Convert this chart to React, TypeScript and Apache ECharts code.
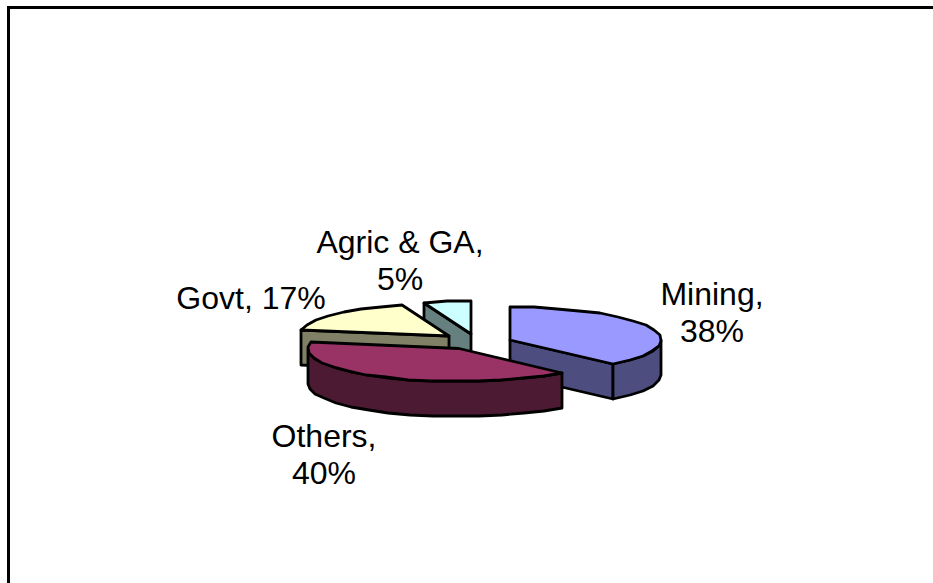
import React, { useEffect, useRef } from "react";
import * as echarts from "echarts";

const categories = ["Mining", "Others", "Govt", "Agric & GA"];
const values = [38, 40, 17, 5];
const topColors = ["#9999FF", "#993366", "#FFFFCC", "#CCFFFF"];
const sideColors = ["#4D4D80", "#4D1A33", "#808066", "#668080"];
const centers = [[510, 340], [459, 348.5], [449, 336], [471, 334]];
const labelSpots = [[712, 312], [324, 454], [251, 298], [400, 260]];
const drawOrder = [2, 3, 1, 0]; // back to front: Mining over Agric/Govt, Others last
const multiLine = [true, true, false, true];

const RX = 151;
const RY = 33;
const DEPTH = 35;
const STEP = 9;
const FONT = "Liberation Sans, Arial, sans-serif";

const rad = (d: number) => (d * Math.PI) / 180;

function arcPoints(cx: number, cy: number, from: number, to: number) {
  const pts: number[][] = [];
  const n = Math.max(1, Math.round((to - from) / STEP));
  for (let i = 0; i <= n; i++) {
    const a = rad(from + ((to - from) * i) / n);
    pts.push([Math.round(cx + RX * Math.sin(a)), Math.round(cy - RY * Math.cos(a))]);
  }
  return pts;
}

export default function App() {
  const ref = useRef<HTMLDivElement>(null);
  useEffect(() => {
    const chart = echarts.init(ref.current!, undefined, { renderer: "svg" });
    const total = values.reduce((s, v) => s + v, 0);
    const shape = (points: number[][], fill: string, z2: number) => ({
      type: "polygon",
      z2,
      shape: { points },
      style: { fill, stroke: "#000", lineWidth: 2.8, lineJoin: "round" },
    });
    const renderItem = (params: any) => {
      const i = params.dataIndex;
      const start = (values.slice(0, i).reduce((s, v) => s + v, 0) / total) * 360;
      const end = start + (values[i] / total) * 360;
      const [cx, cy] = centers[i];
      const base = drawOrder[i] * 10 + 1;
      const top = arcPoints(cx, cy, start, end);
      const children: any[] = [];
      const cut = (p: number[]) =>
        shape([[cx, cy], p, [p[0], p[1] + DEPTH], [cx, cy + DEPTH]], sideColors[i], base);
      if (start > 180 && start < 360) children.push(cut(top[0]));
      if (end > 0 && end < 180) children.push(cut(top[top.length - 1]));
      const from = Math.max(start, 90);
      const to = Math.min(end, 270);
      if (from < to) {
        const arc = arcPoints(cx, cy, from, to);
        const low = arc.map((p) => [p[0], p[1] + DEPTH]).reverse();
        children.push(shape([...arc, ...low], sideColors[i], base + 1));
      }
      children.push(shape([[cx, cy], ...top], topColors[i], base + 2));
      const text = `${categories[i]},${multiLine[i] ? "\n" : " "}${values[i]}%`;
      children.push({
        type: "text",
        z2: 100,
        x: labelSpots[i][0],
        y: labelSpots[i][1],
        style: {
          text,
          fill: "#000",
          fontSize: 32,
          fontFamily: FONT,
          lineHeight: 37,
          align: "center",
          verticalAlign: "middle",
        },
      });
      return { type: "group", children };
    };
    chart.setOption({
      animation: false,
      backgroundColor: "#fff",
      graphic: [
        { type: "rect", shape: { x: 7, y: 6, width: 926, height: 3 }, style: { fill: "#000" } },
        { type: "rect", shape: { x: 7, y: 6, width: 3, height: 577 }, style: { fill: "#000" } },
      ],
      series: [
        {
          type: "custom",
          coordinateSystem: "none",
          renderItem,
          data: categories.map((name, i) => ({ name, value: values[i] })),
          silent: true,
        },
      ],
    });
    return () => chart.dispose();
  }, []);
  return <div ref={ref} style={{ position: "fixed", left: 0, top: 0, width: 933, height: 583 }} />;
}
